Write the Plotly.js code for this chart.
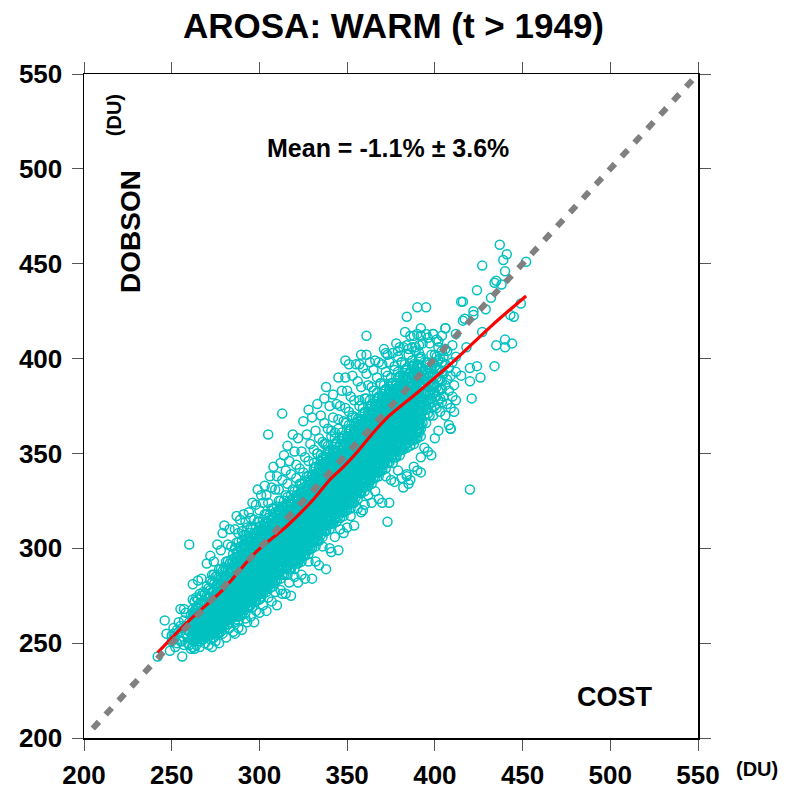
<!DOCTYPE html>
<html>
<head>
<meta charset="utf-8">
<script src="https://cdn.plot.ly/plotly-3.0.1.min.js"></script>
<style>html,body{margin:0;padding:0;background:#fff;}#chart{width:787px;height:793px;}</style>
</head>
<body>
<div id="chart"></div>
<script>
// ---- Data (DU) ----
const chartTitle = 'AROSA: WARM (t > 1949)';
const tickValues = [200, 250, 300, 350, 400, 450, 500, 550];

// COST values of the cloud, one entry per column
const costColumns = [262,263,264,265,266,267,268,269,270,271,272,273,274,275,276,277,278,279,280,281,282,283,284,285,286,287,288,289,290,291,292,293,294,295,296,297,298,299,300,301,302,303,304,305,306,307,308,309,310,311,312,313,314,315,316,317,318,319,320,321,322,323,324,325,326,327,328,329,330,331,332,333,334,335,336,337,338,339,340,341,342,343,344,345,346,347,348,349,350,351,352,353,354,355,356,357,358,359,360,361,362,363,364,365,366,367,368,369,370,371,372,373,374,375,376,377,378,379,380,381,382,383,384,385,386,387,388,389,390,391,392,393,394,395,396,397,398,399,400,401,402,403,404,405,406,407,408,409,410,411,412];
// DOBSON values observed at each COST column
const dobsonColumns = [
[248,252,256,260,264,268,273,281],
[251,255,259,263,267,272,247],
[249,253,257,261,265,269,274],
[252,256,260,264,268,273,283],
[251,255,259,263,267,271,276,248],
[254,258,262,266,270,275,284],
[252,256,260,264,268,272,277],
[255,259,263,267,271,276,250],
[255,259,263,267,271,275,280,292],
[258,262,266,270,274,279,249],
[252,256,259,263,266,270,274,278,283,296],
[255,259,262,266,269,273,277,282,286,248],
[253,257,262,266,269,273,277,281,286,293],
[256,260,265,269,272,276,280,285,251],
[255,259,262,266,269,273,277,281,286,302],
[258,262,265,269,272,276,280,285,289,250],
[256,260,265,269,272,276,280,284,289,299],
[259,263,268,272,275,279,283,288,255,308],
[259,263,266,270,273,277,281,285,290,312],
[262,266,269,273,276,280,284,289,293,253],
[260,264,269,273,276,280,284,288,293,302],
[263,267,272,276,279,283,287,292,258,310],
[263,267,270,274,277,281,285,289,294,301],
[266,270,273,277,280,284,288,293,297,256],
[261,265,268,272,275,279,282,286,290,295,300,310,255],
[264,268,271,275,278,282,285,289,293,298,303,317],
[262,266,271,275,278,282,285,289,293,298,303,258,308],
[265,269,274,277,281,284,288,292,296,301,315],
[265,269,272,276,279,283,286,290,294,299,304,257,309],
[268,272,275,279,282,286,289,293,297,302,307,318],
[266,270,275,279,282,286,289,293,297,302,307,263,314],
[269,273,278,281,285,288,292,296,300,305,311,261],
[269,273,276,280,283,287,290,294,298,303,308,319],
[272,276,279,283,286,290,293,297,301,306,311,264,316],
[269,273,278,282,285,289,292,296,300,305,310,324],
[272,276,281,284,288,291,295,299,303,308,261,315],
[272,276,279,283,286,290,293,297,301,306,311,323,267],
[275,279,282,286,289,293,296,300,304,309,314,331],
[273,277,282,286,289,293,296,300,304,309,314,266,320],
[276,280,285,288,292,295,299,303,307,312,328],
[276,280,283,287,290,294,297,301,305,310,315,270,324],
[279,283,286,290,293,297,300,304,308,313,318,333],
[277,281,286,290,293,297,300,304,308,313,318,267,328],
[280,284,289,292,296,299,303,307,311,316,324,274],
[279,283,286,290,293,297,300,304,308,313,318,338],
[282,286,289,293,296,300,303,307,311,316,321,272,332],
[280,284,289,293,296,300,303,307,311,316,321,343],
[283,287,292,295,299,302,306,310,314,319,277,331],
[283,287,290,294,297,301,304,308,312,317,322,338,270],
[286,290,293,297,300,304,307,311,315,320,325,331],
[284,288,293,297,300,304,307,311,315,320,325,278,345],
[286,290,295,298,302,305,309,313,317,322,336,276],
[286,290,293,297,300,304,307,311,315,320,325,349],
[289,293,296,300,303,307,310,314,318,323,328,276,341],
[286,290,295,299,302,306,309,313,317,322,327,334,354],
[289,293,298,301,305,308,312,316,320,325,282,346],
[289,293,296,300,303,307,310,314,318,323,328,339,275],
[292,296,299,303,306,310,313,317,321,326,331,360],
[289,293,298,302,305,309,312,316,320,325,330,285,351],
[292,296,301,304,308,311,315,319,323,328,337,344],
[292,296,299,303,306,310,313,317,321,326,331,282,358],
[295,299,302,306,309,313,316,320,324,329,334,342],
[293,297,302,306,309,313,316,320,324,329,334,286,351],
[296,300,305,308,312,315,319,323,327,332,367,340],
[296,300,303,307,310,314,317,321,325,330,335,284,348],
[299,303,306,310,313,317,320,324,328,333,338,360],
[297,301,306,310,313,317,320,324,328,333,338,293,346,373],
[300,304,309,312,316,319,323,327,331,336,355],
[300,304,307,311,314,318,321,325,329,334,339,284,369],
[303,307,310,314,317,321,324,328,332,337,342,352],
[301,305,310,314,317,321,324,328,332,337,342,293,362],
[304,308,313,316,320,323,327,331,335,340,376,350],
[304,308,311,315,318,322,325,329,333,338,343,291,358],
[307,311,314,318,321,325,328,332,336,341,346,370],
[306,310,315,319,322,326,329,333,337,342,347,301,356],
[309,313,318,321,325,328,332,336,340,345,379,366],
[309,313,316,320,323,327,330,334,338,343,348,289,385,355],
[312,316,319,323,326,330,333,337,341,346,351,363],
[310,314,319,323,326,330,333,337,341,346,351,300,375],
[313,317,322,325,329,332,336,340,344,349,298,362],
[313,317,320,324,327,331,334,338,342,347,352,381,369],
[316,320,323,327,330,334,337,341,345,350,355,306,361],
[314,318,323,327,330,334,337,341,345,350,355,376],
[317,321,326,329,333,336,340,344,348,353,299,390,368],
[316,320,323,327,330,334,337,341,345,350,355,310,375],
[319,323,326,330,333,337,340,344,348,353,358,383],
[317,321,326,330,333,337,340,344,348,353,358,308,367],
[320,324,329,332,336,339,343,347,351,356,374,390],
[320,324,327,331,334,338,341,345,349,354,359,311,383],
[323,327,330,334,337,341,344,348,352,357,362,397,372],
[321,325,330,334,337,341,344,348,352,357,362,317,380],
[324,328,333,336,340,343,347,351,355,360,391,369],
[324,328,331,335,338,342,345,349,353,358,363,312,378],
[327,331,334,338,341,345,348,352,356,361,366,397],
[326,330,335,339,342,346,349,353,357,362,367,321,388],
[329,333,338,341,345,348,352,356,360,365,378,397],
[329,333,336,340,343,347,350,354,358,363,368,319,385],
[332,336,339,343,346,350,353,357,361,366,371,395],
[330,334,339,343,346,350,353,357,361,366,371,323,379],
[333,337,342,345,349,352,356,360,364,369,392,402],
[333,337,340,344,347,351,354,358,362,367,372,328,386],
[336,340,343,347,350,354,357,361,365,370,375,398],
[334,338,343,347,350,354,357,361,365,370,375,324,385],
[337,341,346,349,353,356,360,364,368,373,394],
[337,341,344,348,351,355,358,362,366,371,376,330,399],
[340,344,347,351,354,358,361,365,369,374,379,390],
[338,342,347,351,354,358,361,365,369,374,379,326,398],
[341,345,350,353,357,360,364,368,372,377,387],
[341,345,348,352,355,359,362,366,370,375,380,324,397],
[344,348,351,355,358,362,365,369,373,378,383,405],
[342,346,351,355,358,362,365,369,373,378,383,338,393],
[345,349,354,357,361,364,368,372,376,381,314,402],
[345,349,352,356,359,363,366,370,374,379,384,398],
[348,352,355,359,362,366,369,373,377,382,387,336],
[345,349,354,358,361,365,368,372,376,381,386,403],
[348,352,357,360,364,367,371,375,379,384,335,396],
[348,352,355,359,362,366,369,373,377,382,387,408],
[351,355,358,362,365,369,372,376,380,385,390,341,401],
[349,353,358,362,365,369,372,376,380,385,390,406],
[352,356,361,364,368,371,375,379,383,388,337,398],
[352,356,359,363,366,370,373,377,381,386,391,406,332],
[355,359,362,366,369,373,376,380,384,389,394,414],
[353,357,362,366,369,373,376,380,384,389,394,338,407],
[356,360,365,368,372,375,379,383,387,392,405],
[354,358,361,365,368,372,375,379,383,388,393,336,412],
[357,361,364,368,371,375,378,382,386,391,396,406],
[355,359,364,368,371,375,378,382,386,391,396,343,412],
[358,362,367,370,374,377,381,385,389,394,406],
[358,362,365,369,372,376,379,383,387,392,397,341,413],
[361,365,368,372,375,379,382,386,390,395,400,407],
[359,363,368,372,375,379,382,386,390,395,400,348,412],
[366,372,377,382,387,393,408],
[370,375,381,386,391,398,353],
[366,373,378,383,388,394,413],
[371,378,382,387,392,398,351],
[370,376,381,386,391,397,408],
[374,379,385,390,395,402,349],
[370,377,382,387,392,398,413],
[375,382,386,391,396,402,358],
[374,380,385,390,395,401,410],
[378,383,389,394,399,406,362],
[372,379,384,389,394,400],
[377,384,388,393,398,404,412],
[380,392,401],
[370,386,397,416],
[376,389,404],
[365,383,395],
[374,391,363],
[380,398,407],
[372,386],
[393,378,401]
];

// further observations in the dense core, COST 262-392
const coreCost = [262,263,264,265,266,267,268,269,270,271,272,273,274,275,276,277,278,279,280,281,282,283,284,285,286,287,288,289,290,291,292,293,294,295,296,297,298,299,300,301,302,303,304,305,306,307,308,309,310,311,312,313,314,315,316,317,318,319,320,321,322,323,324,325,326,327,328,329,330,331,332,333,334,335,336,337,338,339,340,341,342,343,344,345,346,347,348,349,350,351,352,353,354,355,356,357,358,359,360,361,362,363,364,365,366,367,368,369,370,371,372,373,374,375,376,377,378,379,380,381,382,383,384,385,386,387,388,389,390,391,392];
const coreDobson = [
[254,262,257,266],[257,265,253,261],[255,263,259,267],[258,266,255,262],[253,261,257,265],
[256,264,252,260],[254,262,258,266],[257,265,253,261],[257,265,261,268],[260,268,255,264],
[257,264,272,254,261,268],[261,269,277,257,264,271],[257,264,272,255,260,268],[260,267,275,258,264,270],
[263,271,279,257,267,274],[259,266,274,256,262,270],[262,269,277,258,264,273],
[266,274,282,261,270,276],[262,269,277,261,265,273],[265,272,280,264,268,275],[269,277,285,262,266,274],
[265,272,280,261,269,277],[268,275,283,265,272,279],[272,280,288,264,268,276],
[264,271,278,285,292,267,274],[267,274,281,288,295,266,277],[264,271,277,284,291,268,281],[271,279,286,294,300,267,279],[269,276,283,290,297,271,281],
[269,276,283,290,297,270,280],[272,279,286,293,300,273,284],[269,276,282,289,296,271,283],[276,284,291,299,305,274,286],[274,281,288,295,302,270,284],
[273,280,287,294,301,275,284],[276,283,290,297,304,274,286],[273,280,286,293,300,277,289],[280,288,295,303,309,277,291],[278,285,292,299,306,280,291],
[278,285,292,299,306,274,290],[281,288,295,302,309,278,292],[278,285,291,298,305,281,295],[285,293,300,308,314,279,295],[283,290,297,304,311,282,294],
[282,289,296,303,310],[285,292,299,306,313],[282,289,295,302,309],[289,297,304,312,318],[287,294,301,308,315],
[287,294,301,308,315],[290,297,304,311,318],[286,293,299,306,313],[293,301,308,316,322],[291,298,305,312,319],
[290,297,304,311,318],[293,300,307,314,321],[290,297,303,310,317],[297,305,312,320,326],[294,301,308,315,322],
[294,301,308,315,322],[297,304,311,318,325],[294,301,307,314,321],[301,309,316,324,330],[299,306,313,320,327],
[299,306,313,320,327],[302,309,316,323,330],[299,306,312,319,326],[306,314,321,329,335],
[304,311,318,325,332,338],[304,311,318,325,332,345],[307,314,321,328,335,343],[304,311,317,324,331,350],
[311,319,326,334,340,342],[309,316,323,330,337,349],[310,317,324,331,338,348],[313,320,327,334,341,355],
[310,317,323,330,337,347],[317,325,332,340,346,354],[315,322,329,336,343,352],[315,322,329,336,343,359],
[318,325,332,339,346,351],[315,322,328,335,342,358],[322,330,337,345,351,356],[320,327,334,341,348,363],
[319,326,333,340,347,354],[322,329,336,343,350,361],[319,326,332,339,346,359],[326,334,341,349,355,366],
[324,331,338,345,352,358],[324,331,338,345,352,365],[327,334,341,348,355,363],[324,331,337,344,351,370],
[331,339,346,354,360,362],[329,336,343,350,357,369],[330,337,344,351,358,368],[333,340,347,354,361,375],
[330,337,343,350,357,367],[337,345,352,360,366,374],[335,342,349,356,363,372],[335,342,349,356,363,379],
[338,345,352,359,366,371],[335,342,348,355,362,378],[342,350,357,365,371,376],[340,347,354,361,368,383],
[340,347,354,361,368,375],[343,350,357,364,371,382],[340,347,353,360,367,380],[347,355,362,370,376,387],
[345,352,359,366,373,379],[345,352,359,366,373,386],[348,355,362,369,376,384],[345,352,358,365,372,391],
[352,360,367,375,381,383],[350,357,364,371,378,390],[349,356,363,370,377,387],[352,359,366,373,380,394],
[349,356,362,369,376,386],[356,364,371,379,385,393],[354,361,368,375,382,391],[354,361,368,375,382,398],
[357,364,371,378,385,390],[354,361,367,374,381,397],[361,369,376,384,390,395],[359,366,373,380,387,402],
[357,364,371,378,385,392],[360,367,374,381,388,399],[357,364,370,377,384,397],[364,372,379,387,393,404],
[362,369,376,383,390,396],[362,369,376,383,390,403],[365,372,379,386,393,401]
];

// low end of the cloud
const tailCost   = [242,246,247,249,250,250,251,251,252,252,253,253,254,254,255,255,255,256,256,256,257,257,257,258,258,258,259,259,259,260,260,260,260,261,261,261,261];
const tailDobson = [243,262,255,246,251,254,255,258,248,253,250,257,256,261,251,259,268,243,251,258,249,262,268,255,259,266,250,257,253,249,261,256,302,247,252,260,265];

// isolated points
const outlierCost   = [437,441,439,452,427,440,435,434,438,424,432,449,415,390,395,429,422,443,445,384,417,392,406,427,396,412,435,440,444,418,402,406,434,424,420,415,426,421,420,409,361,349,358,305,313,416,422,379,372,399,416,385,392,384,374,359,440,420];
const outlierDobson = [460,455,452,451,449,446,441,440,439,436,432,429,430,427,427,426,425,423,422,422,421,416,416,414,411,413,407,406,408,406,409,405,396,396,395,391,390,379,331,363,412,399,402,360,371,420,423,404,403,413,430,334,340,339,324,320,410,388];

// smoothed fit (red)
const fitCost   = [242,260,279,298,316,331,340,348,356,364,373,390,410,432,452];
const fitDobson = [245,262,278,298,312,326,336,343,351,360,369,382,398,417,433];

// 1:1 line
const oneToOne = [205, 550];

// ---- Build the scatter ----
const cost = [], dobson = [];
costColumns.forEach((c, i) => dobsonColumns[i].forEach(v => { cost.push(c); dobson.push(v); }));
coreCost.forEach((c, i) => coreDobson[i].forEach(v => { cost.push(c); dobson.push(v); }));
tailCost.forEach((c, i) => { cost.push(c); dobson.push(tailDobson[i]); });
outlierCost.forEach((c, i) => { cost.push(c); dobson.push(outlierDobson[i]); });

const FONT = 'Liberation Sans, Arial, Helvetica, sans-serif';
const CYAN = 'rgb(0,192,192)';

const traces = [
  {
    type: 'scatter', mode: 'markers', x: cost, y: dobson,
    marker: { symbol: 'circle-open', size: 9, color: CYAN, line: { width: 1.5, color: CYAN } },
    hoverinfo: 'skip'
  },
  {
    type: 'scatter', mode: 'lines', x: fitCost, y: fitDobson,
    line: { color: '#ff0000', width: 3.2, shape: 'spline', smoothing: 0.8 },
    hoverinfo: 'skip'
  },
  {
    type: 'scatter', mode: 'lines', x: oneToOne, y: oneToOne,
    line: { color: '#808080', width: 6, dash: '9px,10px' },
    hoverinfo: 'skip'
  }
];

const axisCommon = {
  range: [200, 550], tickmode: 'array', tickvals: tickValues, ticktext: tickValues.map(String),
  ticks: 'outside', ticklen: 11, tickwidth: 1, tickcolor: '#555',
  showline: true, linecolor: '#000', linewidth: 1.5, mirror: 'ticks',
  showgrid: false, zeroline: false, fixedrange: true,
  tickfont: { family: FONT, size: 26, color: '#000', weight: 'bold' }
};

const layout = {
  width: 787, height: 793,
  margin: { l: 84, r: 89, t: 74, b: 55 },
  paper_bgcolor: '#fff', plot_bgcolor: '#fff',
  showlegend: false,
  title: { text: chartTitle, font: { family: FONT, size: 35, color: '#000', weight: 'bold' },
           x: 0.5, xref: 'container', xanchor: 'center', y: 0.968, yref: 'container', yanchor: 'middle' },
  xaxis: Object.assign({}, axisCommon, { ticklabelstandoff: 2 }),
  yaxis: Object.assign({}, axisCommon, { ticklabelstandoff: 4 }),
  annotations: [
    { text: 'Mean = -1.1% ± 3.6%', xref: 'paper', yref: 'paper', x: 0.495, y: 0.8886, showarrow: false,
      xanchor: 'center', yanchor: 'middle', font: { family: FONT, size: 25, color: '#000', weight: 'bold' } },
    { text: 'COST', xref: 'paper', yref: 'paper', x: 0.865, y: 0.0617, showarrow: false,
      xanchor: 'center', yanchor: 'middle', font: { family: FONT, size: 27, color: '#000', weight: 'bold' } },
    { text: 'DOBSON', xref: 'paper', yref: 'paper', x: 0.0765, y: 0.7636, showarrow: false, textangle: -90,
      xanchor: 'center', yanchor: 'middle', font: { family: FONT, size: 28, color: '#000', weight: 'bold' } },
    { text: '(DU)', xref: 'paper', yref: 'paper', x: 0.0489, y: 0.938, showarrow: false, textangle: -90,
      xanchor: 'center', yanchor: 'middle', font: { family: FONT, size: 20, color: '#000', weight: 'bold' } },
    { text: '(DU)', xref: 'paper', yref: 'paper', x: 1.096, y: -0.047, showarrow: false,
      xanchor: 'center', yanchor: 'middle', font: { family: FONT, size: 20, color: '#000', weight: 'bold' } }
  ]
};

Plotly.newPlot('chart', traces, layout, { staticPlot: true, displayModeBar: false });
</script>
</body>
</html>
